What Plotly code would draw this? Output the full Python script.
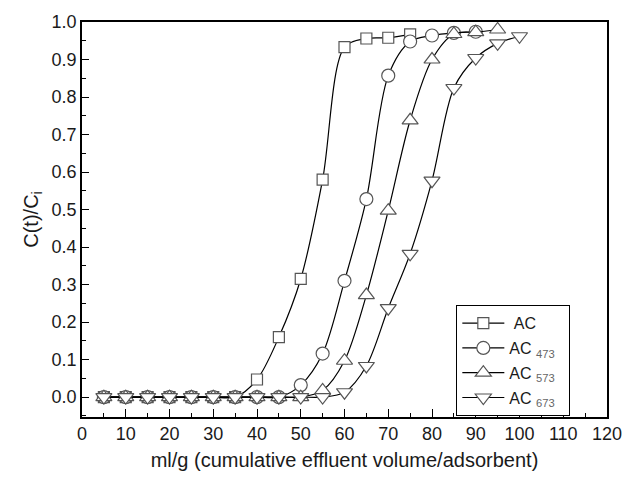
import plotly.graph_objects as go

x_ac = [5, 10, 15, 20, 25, 30, 35, 40, 45, 50, 55, 60, 65, 70, 75]
y_ac = [0, 0, 0, 0, 0, 0, 0, 0.047, 0.16, 0.315, 0.58, 0.933, 0.956, 0.958, 0.967]

x_473 = [5, 10, 15, 20, 25, 30, 35, 40, 45, 50, 55, 60, 65, 70, 75, 80, 85, 90]
y_473 = [0, 0, 0, 0, 0, 0, 0, 0, 0, 0.032, 0.116, 0.31, 0.528, 0.857, 0.948, 0.964, 0.971, 0.974]

x_573 = [5, 10, 15, 20, 25, 30, 35, 40, 45, 50, 55, 60, 65, 70, 75, 80, 85, 90, 95]
y_573 = [0, 0, 0, 0, 0, 0, 0, 0, 0, 0, 0.018, 0.097, 0.272, 0.497, 0.738, 0.9, 0.968, 0.973, 0.98]

x_673 = [5, 10, 15, 20, 25, 30, 35, 40, 45, 50, 55, 60, 65, 70, 75, 80, 85, 90, 95, 100]
y_673 = [0, 0, 0, 0, 0, 0, 0, 0, 0, 0, 0, 0.013, 0.083, 0.237, 0.382, 0.577, 0.824, 0.904, 0.943, 0.962]

sub = "<span style='color:#666666'><sub>%s</sub></span>"
series = [
    ("&nbsp;AC", x_ac, y_ac, "square", 11),
    ("AC " + sub % "473" + "&nbsp;&nbsp;", x_473, y_473, "circle", 13),
    ("AC " + sub % "573", x_573, y_573, "triangle-up", 14),
    ("AC " + sub % "673", x_673, y_673, "triangle-down", 14),
]

fig = go.Figure()
for i, (name, xs, ys, sym, sz) in enumerate(series):
    fig.add_trace(go.Scatter(
        x=xs, y=ys, name=name, mode="lines+markers", legendgroup="g%d" % i,
        line=dict(color="black", width=1.2, shape="spline", smoothing=0.9),
        marker=dict(symbol=sym, size=sz, color="white", line=dict(width=1.2, color="#555555")),
    ))

font = "Liberation Sans, Arial, sans-serif"
fig.update_layout(
    width=634, height=480,
    margin=dict(l=82, r=17, t=22, b=60),
    paper_bgcolor="white", plot_bgcolor="white",
    font=dict(family=font, size=17, color="#1a1a1a"),
    showlegend=True,
    legend=dict(
        x=0.713, y=0.283, xanchor="left", yanchor="top",
        bordercolor="black", borderwidth=1, bgcolor="white",
        font=dict(size=16, color="#1a1a1a"),
        tracegroupgap=1, itemwidth=42,
    ),
    xaxis=dict(
        range=[0, 120], dtick=10, tick0=0,
        showline=True, linecolor="black", linewidth=1.5, mirror=True,
        ticks="inside", ticklen=8, tickcolor="black", tickwidth=1.2,
        minor=dict(dtick=5, ticks="inside", ticklen=4, tickcolor="black", tickwidth=1.2),
        showgrid=False, zeroline=False,
        tickfont=dict(size=18),
        title=dict(text="ml/g (cumulative effluent volume/adsorbent)", font=dict(size=20), standoff=10),
    ),
    yaxis=dict(
        range=[-0.053, 1.0], dtick=0.1, tick0=0, tickformat=".1f",
        showline=True, linecolor="black", linewidth=1.5, mirror=True,
        ticks="inside", ticklen=7, tickcolor="black", tickwidth=1.2,
        minor=dict(dtick=0.05, ticks="inside", ticklen=4, tickcolor="black", tickwidth=1.2),
        showgrid=False, zeroline=False,
        tickfont=dict(size=18),
        title=dict(text="C(t)/C<sub>i</sub>", font=dict(size=20), standoff=8),
    ),
)

fig.write_html("out.html")
